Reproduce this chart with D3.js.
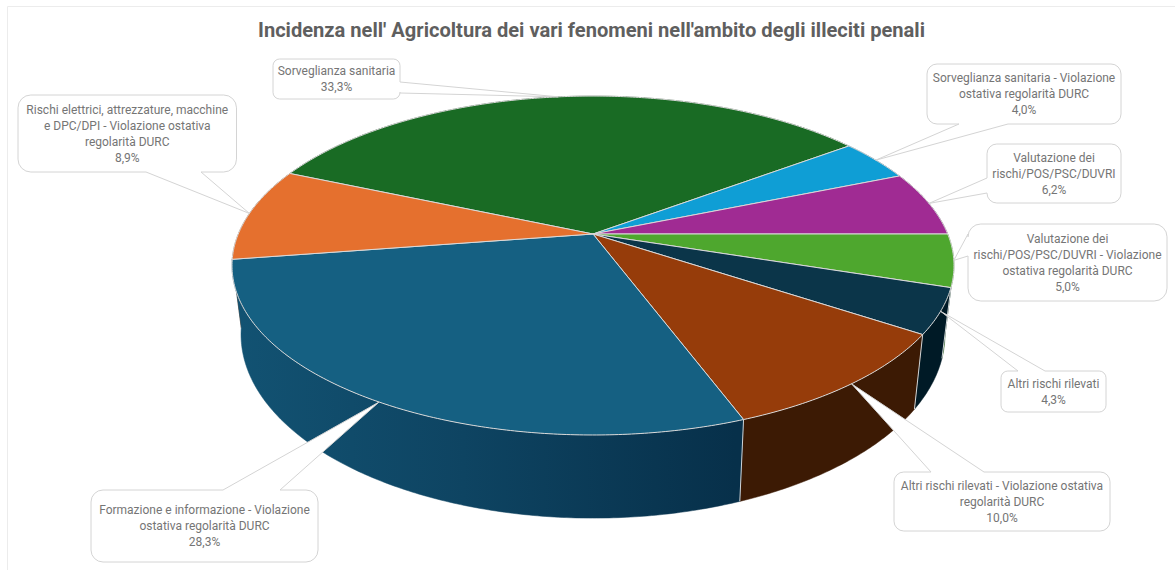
<!DOCTYPE html>
<html>
<head>
<meta charset="utf-8">
<script src="https://cdn.jsdelivr.net/npm/d3@7"></script>
<style>
  html, body { margin: 0; padding: 0; background: #fff; }
  svg { display: block; }
  text { font-family: Roboto, sans-serif; }
</style>
</head>
<body>
<div id="chart"></div>
<script>
var svgWidth = 1175;
var svgHeight = 570;

var title = "Incidenza nell' Agricoltura dei vari fenomeni nell'ambito degli illeciti penali";

// data, clockwise from the first slice
var categories = [
  ["Sorveglianza sanitaria"],
  ["Sorveglianza sanitaria - Violazione", "ostativa regolarità DURC"],
  ["Valutazione dei", "rischi/POS/PSC/DUVRI"],
  ["Valutazione dei", "rischi/POS/PSC/DUVRI - Violazione", "ostativa regolarità DURC"],
  ["Altri rischi rilevati"],
  ["Altri rischi rilevati - Violazione ostativa", "regolarità DURC"],
  ["Formazione e informazione - Violazione", "ostativa regolarità DURC"],
  ["Rischi elettrici, attrezzature, macchine", "e DPC/DPI - Violazione ostativa", "regolarità DURC"]
];
var values = [33.3, 4.0, 6.2, 5.0, 4.3, 10.0, 28.3, 8.9];

var topColors = ["#196b24", "#0f9ed5", "#a02b93", "#4ea72e", "#0b3549", "#963c0a", "#156082", "#e5702e"];
var wallColors = ["#0c3612", "#084f6b", "#50164a", "#2f6b1b", "#001a26", "#3c1a04", "url(#tealWall)", "#8a4319"];

// callout boxes: x, y, w, h, side the pointer leaves from, pointer base start/end along that side
var boxes = [
  [273, 59, 127, 40, "right", 82, 93],
  [927, 64, 194, 60, "bottom", 959, 1008],
  [987, 144, 134, 59, "left", 178, 193],
  [968, 224, 199, 77, "left", 234, 256],
  [1001, 371, 105, 41, "top", 1018, 1045],
  [894, 472, 216, 59, "top", 931, 984],
  [91, 490, 227, 72, "top", 223, 280],
  [18, 95, 218.5, 77, "bottom", 146, 201]
];

// perspective of the pie: apex, radii and the shift to the lower rim
var cx = 593, cy = 234, a = 354.7, b = 163.6, k = 0.186;
var rimScaleX = 0.975, rimScaleY = 1.084, rimShiftY = 46.6;
var firstAngle = -66.6 * Math.PI / 180;

function project(t) {
  var u = Math.sin(t), v = Math.cos(t), w = 1 + k * v;
  return [cx + a * u / w, cy - b * v / w];
}
function rim(p) {
  return [cx + rimScaleX * (p[0] - cx), rimScaleY * p[1] + rimShiftY];
}
function arcPoints(d) {
  var n = Math.ceil((d.endAngle - d.startAngle) / 0.01);
  return d3.range(n + 1).map(function(i) {
    return project(d.startAngle + (d.endAngle - d.startAngle) * i / n);
  });
}

var svg = d3.select("#chart")
  .append("svg")
  .attr("width", svgWidth)
  .attr("height", svgHeight);

// faint chart frame
svg.append("path")
  .attr("d", "M7.5," + (svgHeight) + "V6.5H" + svgWidth)
  .attr("fill", "none")
  .attr("stroke", "#ececec");

var grad = svg.append("defs").append("linearGradient")
  .attr("id", "tealWall")
  .attr("gradientUnits", "userSpaceOnUse")
  .attr("x1", 240).attr("x2", 736).attr("y1", 0).attr("y2", 0);
grad.append("stop").attr("offset", "0%").attr("stop-color", "#125272");
grad.append("stop").attr("offset", "45%").attr("stop-color", "#0e4462");
grad.append("stop").attr("offset", "100%").attr("stop-color", "#07304a");

svg.append("text")
  .attr("x", 591.5)
  .attr("y", 37)
  .attr("text-anchor", "middle")
  .attr("font-size", 20.5)
  .attr("font-weight", 700)
  .attr("fill", "#5f5f5f")
  .attr("textLength", 667)
  .attr("lengthAdjust", "spacingAndGlyphs")
  .text(title);

var pie = d3.pie()
  .sort(null)
  .startAngle(firstAngle)
  .endAngle(firstAngle + 2 * Math.PI);
var slices = pie(values);
var line = d3.line();

// walls, back to front
var wallOrder = slices.slice().sort(function(p, q) {
  function dist(d) {
    var mid = (d.startAngle + d.endAngle) / 2;
    return Math.abs(Math.atan2(Math.sin(mid), Math.cos(mid)));
  }
  return dist(p) - dist(q);
});
svg.append("g").selectAll("path")
  .data(wallOrder)
  .enter()
  .append("path")
  .attr("d", function(d) {
    var pts = arcPoints(d);
    return line(pts.concat(pts.map(rim).reverse())) + "Z";
  })
  .attr("fill", function(d) { return wallColors[d.index]; })
  .attr("stroke", function(d) { return wallColors[d.index]; })
  .attr("stroke-width", 0.5);

// light seams where the front walls meet (not on the left silhouette)
svg.append("g").selectAll("line")
  .data(slices.filter(function(d) {
    return Math.cos(d.endAngle) < 0 && Math.sin(d.endAngle) > -0.9;
  }))
  .enter()
  .append("line")
  .attr("x1", function(d) { return project(d.endAngle)[0]; })
  .attr("y1", function(d) { return project(d.endAngle)[1]; })
  .attr("x2", function(d) { return rim(project(d.endAngle))[0]; })
  .attr("y2", function(d) { return rim(project(d.endAngle))[1]; })
  .attr("stroke", "#cfd3d6")
  .attr("stroke-width", 1);

// top face
svg.append("g").selectAll("path")
  .data(slices)
  .enter()
  .append("path")
  .attr("d", function(d) {
    return line([[cx, cy]].concat(arcPoints(d))) + "Z";
  })
  .attr("fill", function(d) { return topColors[d.index]; })
  .attr("stroke", "#d9d9d9")
  .attr("stroke-width", 1)
  .attr("stroke-linejoin", "round");

// callout outline with its pointer notch going to the slice rim
function calloutPath(box, tip) {
  var x = box[0], y = box[1], w = box[2], h = box[3], side = box[4], p0 = box[5], p1 = box[6];
  var r = h / 6, x2 = x + w, y2 = y + h;
  var tipStr = tip[0] + "," + tip[1];
  var s = "M" + (x + r) + "," + y;
  if (side === "top") s += "H" + p0 + "L" + tipStr + "L" + p1 + "," + y;
  s += "H" + (x2 - r) + "A" + r + "," + r + " 0 0 1 " + x2 + "," + (y + r);
  if (side === "right") s += "V" + p0 + "L" + tipStr + "L" + x2 + "," + p1;
  s += "V" + (y2 - r) + "A" + r + "," + r + " 0 0 1 " + (x2 - r) + "," + y2;
  if (side === "bottom") s += "H" + p1 + "L" + tipStr + "L" + p0 + "," + y2;
  s += "H" + (x + r) + "A" + r + "," + r + " 0 0 1 " + x + "," + (y2 - r);
  if (side === "left") s += "V" + p1 + "L" + tipStr + "L" + x + "," + p0;
  s += "V" + (y + r) + "A" + r + "," + r + " 0 0 1 " + (x + r) + "," + y + "Z";
  return s;
}

var labels = svg.append("g").selectAll("g")
  .data(slices)
  .enter()
  .append("g");

labels.append("path")
  .attr("d", function(d) {
    return calloutPath(boxes[d.index], project((d.startAngle + d.endAngle) / 2));
  })
  .attr("fill", "#fff")
  .attr("stroke", "#d4d4d4")
  .attr("stroke-width", 1);

labels.append("text")
  .attr("text-anchor", "middle")
  .attr("font-size", 12)
  .attr("fill", "#757575")
  .each(function(d) {
    var box = boxes[d.index];
    var rows = categories[d.index].concat(values[d.index].toFixed(1).replace(".", ",") + "%");
    var top = box[1] + box[3] / 2 - (rows.length - 1) * 8;
    d3.select(this).selectAll("tspan")
      .data(rows)
      .enter()
      .append("tspan")
      .attr("x", box[0] + box[2] / 2)
      .attr("y", function(row, i) { return top + i * 16 + 4; })
      .text(function(row) { return row; });
  });
</script>
</body>
</html>
